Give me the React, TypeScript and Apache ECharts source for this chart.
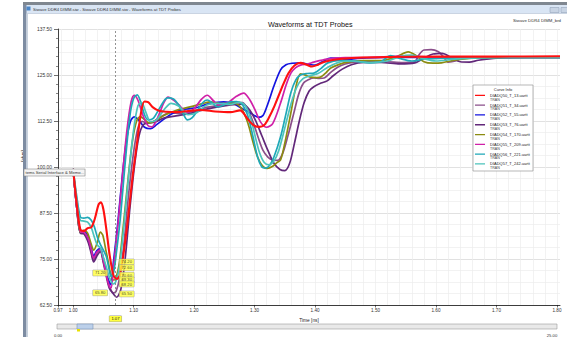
import React, { useEffect, useRef } from "react";
import * as echarts from "echarts";

// ---------- data ----------
const seriesNames = [
  "DIADQ50_T_13.uartt",
  "DIADQ51_T_34.uartt",
  "DIADQ52_T_55.uartt",
  "DIADQ53_T_76.uartt",
  "DIADQ54_T_170.uartt",
  "DIADQ55_T_209.uartt",
  "DIADQ56_T_221.uartt",
  "DIADQ57_T_242.uartt",
];
const seriesColors = ["#ff1010", "#8a4f8a", "#1414e0", "#62287a", "#8c8c10", "#d020a8", "#1ea8b8", "#4cc4bc"];

const markerT = 1.0667;
const markerSide = ["right", "left", "right", "right", "right", "right", "left", "right"];

const red: number[][] = [[1.0,99.5],[1.006,90],[1.012,83.0],[1.018,82.6],[1.024,83.4],[1.03,83.6],[1.036,86],[1.042,89.8],[1.046,90.4],[1.05,88.5],[1.055,83],[1.06,76.5],[1.0667,70.6],[1.072,69.6],[1.077,70.5],[1.083,76],[1.09,85],[1.098,97],[1.106,107],[1.112,114.5],[1.118,117.8],[1.124,117.6],[1.132,116.2],[1.142,115.3],[1.155,115.0],[1.17,114.9],[1.19,115.2],[1.211,115.5],[1.235,115.1],[1.26,114.9],[1.276,115.4],[1.288,113.2],[1.298,111.4],[1.308,110.9],[1.316,111.4],[1.324,113.5],[1.333,116.6],[1.345,121.5],[1.356,125.5],[1.366,127.6],[1.376,128.3],[1.386,127.8],[1.395,127.3],[1.405,127.8],[1.416,128.6],[1.438,129.3],[1.47,129.7],[1.52,129.9],[1.6,130.0],[1.7,130.0],[1.805,130.1]];
const mauve: number[][] = [[1.0,99.5],[1.006,89],[1.012,82.3],[1.018,82.0],[1.025,80.0],[1.03,77.0],[1.034,74.6],[1.04,76.8],[1.045,77.4],[1.05,74.5],[1.055,70.8],[1.06,67.6],[1.0667,65.8],[1.071,66.2],[1.077,70.0],[1.084,79],[1.092,93],[1.1,104],[1.107,110.5],[1.114,112.4],[1.122,112.0],[1.132,112.3],[1.145,113.6],[1.16,114.8],[1.18,114.5],[1.2,115.2],[1.22,116.2],[1.245,116.8],[1.265,117.6],[1.28,117.5],[1.29,115.2],[1.298,112],[1.306,108],[1.314,104.5],[1.322,102.7],[1.33,101.9],[1.338,101.8],[1.346,103.5],[1.355,108.4],[1.365,114.7],[1.373,119.8],[1.381,122.8],[1.39,123.8],[1.398,124.2],[1.407,124.1],[1.415,124.2],[1.425,125.6],[1.438,127.2],[1.45,128.0],[1.464,128.5],[1.49,128.7],[1.52,128.6],[1.545,128.4],[1.564,128.5],[1.572,130.5],[1.58,131.8],[1.592,131.9],[1.604,131.3],[1.612,130.0],[1.62,128.5],[1.632,128.8],[1.642,129.6],[1.66,129.7],[1.7,129.7],[1.75,129.8],[1.805,129.8]];
const blue: number[][] = [[1.0,99.5],[1.006,89],[1.012,82.3],[1.018,82.7],[1.025,81.0],[1.03,78],[1.034,75.8],[1.039,77.2],[1.045,77.8],[1.05,75.2],[1.055,71.5],[1.058,69.5],[1.062,68.0],[1.0667,74.2],[1.074,85],[1.081,97],[1.088,107],[1.095,112.5],[1.101,113.6],[1.108,112.8],[1.118,110.8],[1.128,110.4],[1.138,111.5],[1.15,113.0],[1.165,114.6],[1.18,115.6],[1.2,116.0],[1.225,117.2],[1.249,117.7],[1.265,117.3],[1.28,115.8],[1.294,114.6],[1.306,113.5],[1.314,114.0],[1.322,117.2],[1.332,122],[1.343,126.4],[1.352,127.8],[1.362,128.2],[1.376,128.3],[1.39,127.9],[1.4,127.7],[1.412,128.6],[1.426,129.6],[1.44,129.5],[1.454,129.2],[1.47,129.5],[1.52,129.8],[1.6,129.8],[1.7,129.8],[1.805,129.8]];
const darkPurple: number[][] = [[1.0,99.5],[1.006,89],[1.012,82.0],[1.018,81.8],[1.025,79.5],[1.03,76.5],[1.034,74.2],[1.04,76.0],[1.045,77.0],[1.05,74.0],[1.055,70.2],[1.06,67.0],[1.0667,65.5],[1.072,64.6],[1.079,66.8],[1.086,75],[1.094,89],[1.102,101],[1.109,108.5],[1.116,111.5],[1.125,112.0],[1.135,112.2],[1.15,113.3],[1.17,113.9],[1.19,114.4],[1.21,115.3],[1.235,116.2],[1.26,116.9],[1.28,117.1],[1.292,115.5],[1.302,112.5],[1.312,108.5],[1.322,104.5],[1.332,101.0],[1.342,99.3],[1.35,99.0],[1.358,101],[1.366,106.5],[1.374,112.5],[1.382,117.5],[1.39,120.6],[1.398,121.8],[1.41,122.8],[1.42,123.4],[1.43,124.8],[1.445,126.6],[1.46,127.8],[1.48,128.4],[1.51,128.4],[1.54,128.0],[1.565,128.3],[1.58,129.6],[1.595,130.7],[1.61,130.9],[1.625,129.8],[1.64,128.6],[1.655,128.5],[1.67,129.0],[1.7,129.6],[1.75,129.8],[1.805,129.8]];
const olive: number[][] = [[1.0,99.5],[1.006,89],[1.012,82.3],[1.018,82.8],[1.024,82.0],[1.03,79.0],[1.034,77.4],[1.04,79.5],[1.045,82.3],[1.049,81.5],[1.054,77.5],[1.058,74.3],[1.062,71.0],[1.0667,69.3],[1.07,69.5],[1.076,73.5],[1.083,84],[1.091,97],[1.098,107],[1.105,112.5],[1.111,113.7],[1.118,112.9],[1.126,112.0],[1.136,112.6],[1.15,114.0],[1.172,115.5],[1.195,116.4],[1.215,117.3],[1.227,117.7],[1.245,117.2],[1.265,117.4],[1.278,116.0],[1.289,111.9],[1.297,107.0],[1.305,102.7],[1.313,100.3],[1.321,99.6],[1.33,100.2],[1.337,101.2],[1.343,101.9],[1.35,106.5],[1.36,114.7],[1.368,121.5],[1.376,125.3],[1.385,124.9],[1.393,124.4],[1.403,124.3],[1.41,124.5],[1.418,125.6],[1.426,126.9],[1.44,127.9],[1.454,128.5],[1.48,128.9],[1.51,128.9],[1.535,130.0],[1.554,131.3],[1.568,130.2],[1.58,128.6],[1.595,128.2],[1.609,128.3],[1.63,129.0],[1.66,129.6],[1.72,129.8],[1.805,129.8]];
const magenta: number[][] = [[1.0,99.5],[1.006,89],[1.012,82.5],[1.018,82.2],[1.025,80.5],[1.03,77.5],[1.034,75.2],[1.039,76.8],[1.045,77.5],[1.05,74.6],[1.055,70.5],[1.06,67.5],[1.063,67.2],[1.0667,72.6],[1.074,84],[1.081,96.5],[1.089,110],[1.096,117.8],[1.101,119.5],[1.107,118.2],[1.116,113.8],[1.124,111.2],[1.13,110.9],[1.14,113.5],[1.15,117.5],[1.157,119.0],[1.166,118.2],[1.174,117.0],[1.189,114.9],[1.2,115.8],[1.212,118.4],[1.222,119.5],[1.232,118.0],[1.24,116.9],[1.255,117.4],[1.27,119.2],[1.282,120.1],[1.292,118.3],[1.3,115.8],[1.31,112.2],[1.32,110.8],[1.33,111.8],[1.343,117.4],[1.352,122.2],[1.36,125.5],[1.368,127.0],[1.376,127.7],[1.388,128.0],[1.398,128.5],[1.42,129.3],[1.45,129.7],[1.5,129.8],[1.55,130.2],[1.6,129.8],[1.7,129.9],[1.805,129.9]];
const teal: number[][] = [[1.0,99.5],[1.006,92],[1.012,86.4],[1.018,86.1],[1.024,86.3],[1.03,85.5],[1.035,83.8],[1.04,81.0],[1.045,79.0],[1.05,77.4],[1.055,75.6],[1.059,72.6],[1.063,70.2],[1.0667,71.2],[1.071,76],[1.078,86],[1.086,101],[1.094,114],[1.1,118.6],[1.106,119.6],[1.112,117.5],[1.118,114.2],[1.124,112.8],[1.133,113.3],[1.143,116.0],[1.156,118.8],[1.166,118.5],[1.174,117.0],[1.182,114.5],[1.189,112.8],[1.197,113.4],[1.206,115.5],[1.215,117.6],[1.222,118.2],[1.23,117.4],[1.239,116.3],[1.25,116.9],[1.26,117.7],[1.27,117.8],[1.277,117.4],[1.284,115.8],[1.29,113.3],[1.297,108.5],[1.305,102.7],[1.312,100.0],[1.318,99.7],[1.325,100.5],[1.332,102.7],[1.343,108.2],[1.352,114.5],[1.36,120.2],[1.368,123.6],[1.376,125.0],[1.387,125.4],[1.398,125.5],[1.41,126.8],[1.421,128.3],[1.44,129.0],[1.47,128.7],[1.49,128.3],[1.509,128.6],[1.525,130.3],[1.54,129.5],[1.56,128.8],[1.58,129.3],[1.62,129.6],[1.7,129.8],[1.805,129.8]];
const lightTeal: number[][] = [[1.0,99.5],[1.006,91],[1.012,85.5],[1.018,85.3],[1.024,85.0],[1.03,83.5],[1.035,81.0],[1.04,78.8],[1.045,78.0],[1.05,75.5],[1.055,72.8],[1.06,70.0],[1.0667,68.2],[1.071,69.0],[1.077,73.5],[1.084,84],[1.092,98],[1.1,110],[1.107,116.6],[1.113,117.6],[1.12,115.0],[1.128,112.3],[1.138,112.8],[1.15,115.5],[1.162,117.3],[1.175,116.5],[1.19,114.2],[1.205,114.8],[1.22,116.8],[1.24,117.3],[1.26,117.0],[1.275,117.6],[1.285,116.6],[1.293,113.5],[1.3,109.0],[1.308,104.0],[1.316,101.2],[1.324,100.6],[1.332,101.6],[1.34,104.5],[1.35,110.6],[1.36,117.0],[1.37,121.8],[1.38,124.0],[1.392,124.8],[1.405,125.4],[1.42,127.0],[1.44,128.5],[1.46,128.8],[1.49,128.4],[1.52,128.8],[1.54,130.0],[1.56,130.4],[1.58,129.4],[1.6,128.8],[1.63,129.3],[1.68,129.7],[1.805,129.8]];

const seriesData = [red, mauve, blue, darkPurple, olive, magenta, teal, lightTeal];

const xMin = 0.975;
const xMax = 1.805;
const xLabelValues = [0.975, 1.0, 1.1, 1.2, 1.3, 1.4, 1.5, 1.6, 1.7, 1.8];
const xFineValues = Array.from({ length: 42 }, (_, i) => +(0.98 + i * 0.02).toFixed(2));
const yMin = 62.5;
const yMax = 137.5;
const yStep = 12.5;
const yFineStep = 3.125;

const FONT = "'Liberation Sans', Arial, sans-serif";

export default function App() {
  const ref = useRef<HTMLDivElement>(null);
  useEffect(() => {
    if (!ref.current) return;
    const chart = echarts.init(ref.current, null, { renderer: "svg" });

    const markerData = seriesData.map((d, i) => {
      const p = d.find((q) => q[0] === markerT) as number[];
      return {
        value: [markerT, p[1]],
        label: { position: markerSide[i], distance: 6 },
      };
    });

    const lineSeries = seriesData.map((d, i) => ({
      name: seriesNames[i],
      type: "line",
      xAxisIndex: 1,
      yAxisIndex: 1,
      data: d,
      smooth: 0.3,
      symbol: "none",
      showSymbol: false,
      color: seriesColors[i],
      z: i === 0 ? 4 : 2,
      lineStyle: { width: i === 0 ? 2.1 : 1.7, color: seriesColors[i] },
    }));

    const option: any = {
      animation: false,
      backgroundColor: "#ffffff",
      textStyle: { fontFamily: FONT },
      title: {
        text: "Waveforms at TDT Probes",
        left: 263,
        top: 15.5,
        textStyle: { fontSize: 7.2, fontWeight: "normal", color: "#111", fontFamily: FONT },
      },
      grid: { left: 58, top: 29, right: 7, bottom: 32, containLabel: false },
      legend: {
        data: seriesNames,
        orient: "vertical",
        left: 475,
        top: 93,
        selectedMode: false,
        itemWidth: 10,
        itemHeight: 8.8,
        itemGap: 1,
        padding: 0,
        icon: "path://M0,0H0.01V0.01H0Z M0,1.7H10V3H0Z M0,8.79H0.01V8.8H0Z",
        itemStyle: { borderWidth: 0 },
        formatter: (name: string) => `{n|${name}}\n{t|TRAN}`,
        textStyle: {
          fontFamily: FONT,
          rich: {
            n: { fontSize: 4, lineHeight: 4.4, color: "#222", fontFamily: FONT },
            t: { fontSize: 3.6, lineHeight: 4.4, color: "#444", fontFamily: FONT },
          },
        },
        z: 6,
      },
      xAxis: [
        {
          type: "value",
          min: xMin,
          max: xMax,
          axisLine: { show: false },
          axisLabel: { show: false },
          axisTick: { show: false, customValues: xFineValues },
          splitLine: { show: true, lineStyle: { color: "#ececec", width: 0.7 } },
        },
        {
          type: "value",
          min: xMin,
          max: xMax,
          position: "bottom",
          name: "Time [ns]",
          nameLocation: "middle",
          nameGap: 7.5,
          nameTextStyle: { fontSize: 4.8, color: "#222", fontFamily: FONT },
          axisLine: { show: true, lineStyle: { color: "#111", width: 0.8 } },
          axisTick: { show: true, length: 2.5, customValues: xLabelValues, lineStyle: { color: "#111", width: 0.6 } },
          axisLabel: {
            customValues: xLabelValues,
            formatter: (v: number) => v.toFixed(2),
            fontSize: 4.6,
            color: "#333",
            margin: 3,
            fontFamily: FONT,
          },
          splitLine: { show: false },
        },
      ],
      yAxis: [
        {
          type: "value",
          min: yMin,
          max: yMax,
          interval: yFineStep,
          position: "left",
          axisLine: { show: false },
          axisLabel: { show: false },
          axisTick: { show: false },
          splitLine: { show: true, lineStyle: { color: "#ececec", width: 0.7 } },
        },
        {
          type: "value",
          min: yMin,
          max: yMax,
          interval: yStep,
          position: "left",
          name: "[ohm]",
          nameLocation: "middle",
          nameRotate: 90,
          nameGap: 19,
          nameTextStyle: { fontSize: 4.6, color: "#222", fontFamily: FONT, padding: [0, 0, 0, 22] },
          axisLine: { show: true, lineStyle: { color: "#111", width: 0.8 } },
          axisTick: { show: true, length: 4, lineStyle: { color: "#111", width: 0.6 } },
          minorTick: { show: true, splitNumber: 5, length: 2, lineStyle: { color: "#111", width: 0.5 } },
          axisLabel: {
            formatter: (v: number) => v.toFixed(2),
            fontSize: 4.9,
            color: "#333",
            margin: 6,
            fontFamily: FONT,
          },
          splitLine: { show: true, lineStyle: { color: "#dadada", width: 0.7 } },
        },
      ],
      series: [
        ...lineSeries,
        {
          name: "marker",
          type: "scatter",
          xAxisIndex: 1,
          yAxisIndex: 1,
          symbolSize: 0.1,
          z: 6,
          data: markerData,
          label: {
            show: true,
            formatter: (p: any) => p.value[1].toFixed(2),
            fontSize: 4.2,
            color: "#111",
            backgroundColor: "#ffff40",
            borderColor: "#999",
            borderWidth: 0.5,
            padding: [0.8, 2],
            fontFamily: FONT,
          },
          markLine: {
            silent: true,
            symbol: "none",
            data: [{ xAxis: markerT }],
            lineStyle: { type: [2, 2], color: "#777", width: 0.8 },
            label: {
              show: true,
              position: "start",
              distance: 11,
              formatter: markerT.toFixed(2),
              fontSize: 4.2,
              color: "#111",
              backgroundColor: "#ffff40",
              borderColor: "#999",
              borderWidth: 0.5,
              padding: [0.8, 2],
              fontFamily: FONT,
            },
          },
        },
      ],
      graphic: [
        // window chrome
        { type: "rect", shape: { x: 23, y: 2, width: 544, height: 3 }, style: { fill: "#7f8790" }, z: 10 },
        { type: "rect", shape: { x: 23, y: 5, width: 544, height: 8 }, style: { fill: "#d9e5f4" }, z: 10 },
        { type: "rect", shape: { x: 23, y: 13, width: 544, height: 0.8 }, style: { fill: "#b9c6d8" }, z: 10 },
        { type: "rect", shape: { x: 23, y: 5, width: 3.5, height: 332 }, style: { fill: "#7d8ca2" }, z: 10 },
        { type: "rect", shape: { x: 26.5, y: 13, width: 1.5, height: 324 }, style: { fill: "#c8d2de" }, z: 10 },
        { type: "rect", shape: { x: 26.5, y: 6.5, width: 4, height: 4 }, style: { fill: "#4a86c8" }, z: 11 },
        {
          type: "text", x: 33, y: 9, z: 11,
          style: { text: "Siwave DDR4 DIMM.siw - Siwave DDR4 DIMM.siw - Waveforms at TDT Probes", fontSize: 4.2, fill: "#333", verticalAlign: "middle", fontFamily: FONT },
        },
        { type: "rect", shape: { x: 550, y: 7.5, width: 9, height: 5 }, style: { fill: "#c8d4e4", stroke: "#8898b0", lineWidth: 0.5 }, z: 11 },
        { type: "rect", shape: { x: 561, y: 7.5, width: 8, height: 5 }, style: { fill: "#c8d4e4", stroke: "#8898b0", lineWidth: 0.5 }, z: 11 },
        {
          type: "text", x: 513, y: 20, z: 11,
          style: { text: "Siwave DDR4 DIMM_brd", fontSize: 4.3, fill: "#333", verticalAlign: "middle", fontFamily: FONT },
        },
        // legend frame
        { type: "rect", shape: { x: 473, y: 85, width: 60, height: 86 }, style: { fill: "#ffffff", stroke: "#9a9a9a", lineWidth: 0.7 }, z: 3 },
        {
          type: "text", x: 503, y: 89, z: 7,
          style: { text: "Curve Info", fontSize: 4, fill: "#222", align: "center", verticalAlign: "middle", fontFamily: FONT },
        },
        // hovering tooltip
        { type: "rect", shape: { x: 24, y: 169, width: 61, height: 7 }, style: { fill: "#f4f4f4", stroke: "#8c8c8c", lineWidth: 0.6 }, z: 20 },
        {
          type: "text", x: 25.5, y: 172.5, z: 21,
          style: { text: "tems Serial Interface & Memo...", fontSize: 4.2, fill: "#333", verticalAlign: "middle", fontFamily: FONT },
        },
        // scroll bar
        { type: "rect", shape: { x: 57, y: 324, width: 500, height: 5 }, style: { fill: "#e9e9e9", stroke: "#9a9a9a", lineWidth: 0.6 }, z: 10 },
        { type: "rect", shape: { x: 77, y: 324, width: 16, height: 5 }, style: { fill: "#bcd0ea", stroke: "#7b93b8", lineWidth: 0.6 }, z: 11 },
        { type: "rect", shape: { x: 77, y: 329, width: 3, height: 2.5 }, style: { fill: "#e8e000" }, z: 11 },
        {
          type: "text", x: 58, y: 335, z: 11,
          style: { text: "0.00", fontSize: 4.2, fill: "#333", align: "center", verticalAlign: "middle", fontFamily: FONT },
        },
        {
          type: "text", x: 552, y: 335, z: 11,
          style: { text: "25.00", fontSize: 4.2, fill: "#333", align: "center", verticalAlign: "middle", fontFamily: FONT },
        },
      ],
    };

    chart.setOption(option);
    return () => chart.dispose();
  }, []);

  return (
    <div
      ref={ref}
      style={{ position: "fixed", left: 0, top: 0, width: 567, height: 337, background: "#fff" }}
    />
  );
}
